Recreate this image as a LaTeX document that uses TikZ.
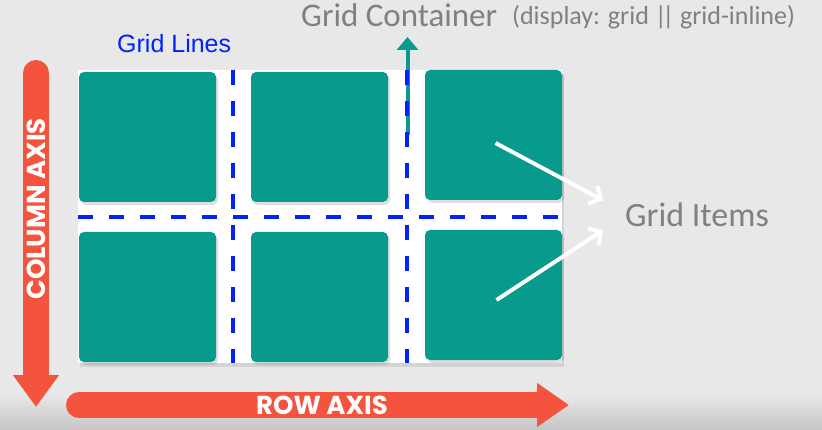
\documentclass[tikz,border=0pt]{standalone}
\usepackage{fontspec}
\usepackage{tikz}
\usetikzlibrary{arrows.meta, shadows}
\setmainfont{Carlito}
\newfontfamily\axisfont{Poppins}
\newfontfamily\linefont{Liberation Sans}
\definecolor{gc-teal}{RGB}{8, 154, 140}
\definecolor{gc-red}{RGB}{244, 84, 62}
\definecolor{gc-blue}{RGB}{0, 34, 255}
\definecolor{gc-gray}{RGB}{128, 128, 128}
\definecolor{gc-bg}{RGB}{232, 232, 232}

\begin{document}
\begin{tikzpicture}[x=1pt, y=-1pt,
    griditem/.style={rectangle, rounded corners=5pt, fill=gc-teal, inner sep=0pt,
        minimum width=137pt, minimum height=130pt,
        drop shadow={opacity=0.25, shadow xshift=2pt, shadow yshift=-3pt}},
    gridline/.style={gc-blue, line width=4.5pt, dash pattern=on 15pt off 16pt},
    axisarrow/.style={gc-red, line width=26pt, line cap=round},
    axislabel/.style={text=white, font=\axisfont\bfseries\fontsize{26}{28}\selectfont, inner sep=0pt},
    pointer/.style={white, line width=4pt, -{Straight Barb[length=9pt, width=20pt]}}]
    % background
    \fill[gc-bg] (0,0) rectangle (822,430);
    \shade[top color=gc-bg, bottom color=gray!45] (0,395) rectangle (822,430);
    \useasboundingbox (0,0) rectangle (822,430);

    % container and items
    \node[rectangle, fill=white, inner sep=0pt, minimum width=484pt, minimum height=293pt,
        drop shadow={opacity=0.2, shadow xshift=2pt, shadow yshift=-4pt}] (box) at (320,216.5) {};
    \node[griditem] (item11) at (147.5,137) {};
    \node[griditem] (item12) at (319.5,137) {};
    \node[griditem] (item13) at (493.5,135) {};
    \node[griditem] (item21) at (147.5,297) {};
    \node[griditem] (item22) at (319.5,297) {};
    \node[griditem] (item23) at (493.5,295) {};

    % container pointer
    \coordinate (gcfoot) at (407.5,135);
    \coordinate (gctip) at (407.5,37);
    \draw[gc-teal, line width=4pt, -{Triangle[length=13pt, width=21pt]}] (gcfoot) -- (gctip);

    % grid lines
    \draw[gridline] (233,70) -- (233,363);
    \draw[gridline] (407,70) -- (407,363);
    \draw[gridline] (78,217) -- (561,217);

    % labels
    \node[anchor=base west, inner sep=0pt, text=gc-gray, font=\fontsize{33}{36}\selectfont] (title) at (301,27) {Grid Container};
    \node[anchor=base west, inner sep=0pt, text=gc-gray, font=\fontsize{26}{28}\selectfont] (note) at (512,25) {(display: grid |\kern-4.5pt| grid-inline)};
    \node[anchor=base west, inner sep=0pt, text=gc-blue, font=\linefont\fontsize{25}{27}\selectfont] (lines) at (117,53) {Grid Lines};
    \node[anchor=base west, inner sep=0pt, text=gc-gray, font=\fontsize{34}{36}\selectfont] (items) at (625,227) {Grid Items};

    \draw[pointer] ([xshift=2pt, yshift=-8pt]item13.center) -- ([xshift=-22pt, yshift=15pt]items.west);
    \draw[pointer] ([xshift=3pt, yshift=-5pt]item23.center) -- ([xshift=-22pt, yshift=-15pt]items.west);

    % axes
    \coordinate (coltop) at (36,73);
    \coordinate (coltip) at (36,407);
    \coordinate (rowtail) at (79,405);
    \coordinate (rowtip) at (569,405);
    \draw[axisarrow, -{Triangle[length=32pt, width=44pt]}] (coltop) -- (coltip);
    \draw[axisarrow, -{Triangle[length=32pt, width=42pt]}] (rowtail) -- (rowtip);
    \node[axislabel, rotate=90] (colaxis) at (36,209) {COLUMN AXIS};
    \node[axislabel] (rowaxis) at (322,405) {ROW AXIS};
\end{tikzpicture}
\end{document}
